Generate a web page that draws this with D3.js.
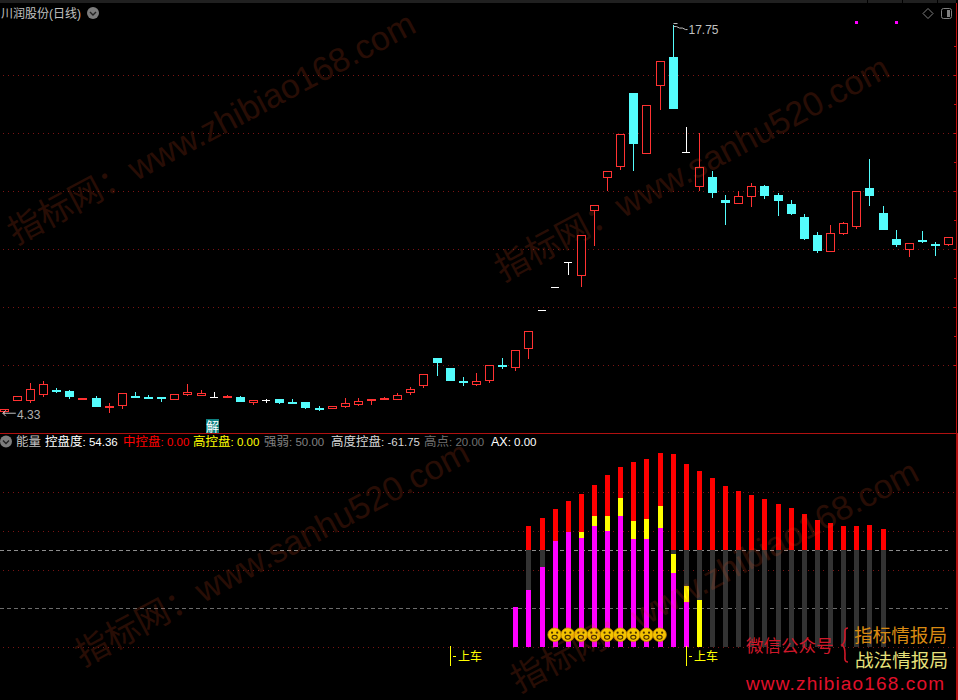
<!DOCTYPE html>
<html><head><meta charset="utf-8">
<script src="https://cdnjs.cloudflare.com/ajax/libs/d3/7.8.5/d3.min.js"></script>
<style>
html,body{margin:0;padding:0;background:#000;overflow:hidden}
svg{display:block}
text{font-family:"Liberation Sans","Noto Sans CJK SC",sans-serif}
</style></head><body><svg id="c" width="958" height="700"></svg>
<script>
const opens =[4.39,4.78,4.78,4.99,5.15,5.11,4.80,4.87,4.54,4.61,4.94,4.92,4.91,4.81,4.99,4.95,4.92,4.92,4.91,4.71,4.79,4.84,4.73,4.73,4.53,4.50,4.57,4.64,4.78,4.81,4.81,5.06,5.30,6.25,5.91,5.46,5.33,5.47,6.01,5.92,6.57,7.90,8.69,9.55,9.09,11.31,12.47,12.85,15.39,13.30,15.64,16.63,13.34,12.16,12.49,11.70,11.57,11.81,12.18,11.87,11.56,11.11,10.49,9.92,10.54,10.78,12.11,11.25,10.36,9.99,10.32,10.18,10.16];
const highs =[4.49,4.93,5.39,5.46,5.23,5.15,4.87,4.94,4.69,5.03,5.08,4.98,4.91,5.00,5.36,5.15,5.07,4.98,4.94,4.79,4.85,4.84,4.84,4.73,4.60,4.59,4.87,4.87,4.84,4.91,5.03,5.25,5.69,6.25,5.91,5.60,5.73,6.00,6.25,6.52,7.17,7.90,8.69,9.55,10.48,11.54,12.69,13.97,15.39,14.97,16.48,17.75,14.22,14.00,12.69,11.86,12.01,12.28,12.22,11.94,11.70,11.22,10.60,10.84,10.94,12.00,13.11,11.49,10.67,10.21,10.63,10.25,10.41];
const lows  =[4.33,4.78,4.70,4.92,5.06,4.84,4.80,4.56,4.37,4.49,4.92,4.84,4.73,4.81,4.95,4.95,4.87,4.92,4.73,4.64,4.70,4.67,4.71,4.49,4.43,4.50,4.54,4.61,4.63,4.81,4.81,4.98,5.23,5.63,5.46,5.29,5.29,5.39,5.87,5.81,6.22,7.90,8.69,9.11,8.71,10.12,12.01,12.74,12.71,13.30,14.81,14.84,13.34,12.01,11.77,10.84,11.57,11.46,11.73,11.15,11.18,10.32,9.87,9.92,10.49,10.70,11.49,10.67,10.08,9.73,10.22,9.77,10.12];
const closes=[4.49,4.93,5.19,5.34,5.12,4.91,4.87,4.56,4.60,5.03,4.92,4.90,4.89,5.00,5.07,5.03,4.92,4.94,4.73,4.79,4.79,4.70,4.71,4.53,4.50,4.59,4.69,4.76,4.84,4.87,4.97,5.17,5.69,6.08,5.46,5.39,5.45,6.00,5.94,6.52,7.17,7.90,8.69,9.55,10.48,11.54,12.69,13.97,13.63,14.97,16.48,14.84,13.34,12.83,11.94,11.60,11.83,12.17,11.84,11.67,11.22,10.36,9.94,10.55,10.90,12.00,11.84,10.67,10.15,10.21,10.25,10.11,10.41];
const priceGrid=[6,8,10,12,14,16];
const priceMinorTicks=[6,7,8,9,10,11,12,13,14,15,16,17];
const priceMarkers=[65,68];

const energyStart=39;
const energyMagenta=[20.69,29.48,41.38,54.83,59.48,56.38,62.59,60,67.76,55.86,55.86,61.55,38.28,23.28,0,0,0,0,0,0,0,0,0,0,0,0,0,0,0];
const energyYellow=[0,0,0,0,0,59.48,67.76,67.76,77.07,65.17,66.21,72.93,48.1,31.55,24.31,0,0,0,0,0,0,0,0,0,0,0,0,0,0];
const energyRed=[0,62.59,66.72,71.38,75.52,79.14,83.79,88.97,93.1,95.69,97.24,100.34,99.83,94.66,91.03,87.41,83.28,80.69,78.62,76.55,73.97,71.9,68.79,65.69,64.14,62.59,62.59,63.1,61.03];
const energyBase=50;
const energyGrid=[0,40,60,80];
const energyDashed=[50,20];
const smileyIdx=[42,43,44,45,46,47,48,49,50];
const signalIdx=[34,52];
const signalLabel="上车";
const stockTitle="川润股份(日线)";
const maxLabel="17.75", minLabel="4.33", maxIdx=51, minIdx=0;
const legendNames=["控盘度","中控盘","高控盘","强弱","高度控盘","高点","AX"];
const legendValues=["54.36","0.00","0.00","50.00","-61.75","20.00","0.00"];
const legendColors=["#ffffff","#ff0000","#ffff00","#808080","#d8d8d8","#707070","#ffffff"];
const legendX=[45,123,193,264,331,424,491];
const watermarks=[["指标网：www.zhibiao168.com",16,245],["指标网：www.sanhu520.com",503,282],["指标网：www.sanhu520.com",83,667],["指标网：www.zhibiao168.com",519,693]];

const svg=d3.select("#c");
svg.append("rect").attr("width",958).attr("height",700).attr("fill","#000");

const idx=d3.range(opens.length);
const x=d3.scalePoint().domain(idx).range([3.8,948.08]);
const px=i=>Math.round(x(i));
const y=d3.scaleLinear().domain([6,16]).range([365.3,75.3]);
const yE=d3.scaleLinear().domain([0,100]).range([647,453.67]);

// chrome
svg.append("rect").attr("width",956).attr("height",3).attr("fill","#202020");
svg.append("g").selectAll("rect").data([867,902,937]).join("rect")
  .attr("x",d=>d).attr("y",0).attr("width",1).attr("height",3).attr("fill","#000");
svg.append("rect").attr("x",0).attr("y",433).attr("width",957).attr("height",1).attr("fill","#b01010");
svg.append("rect").attr("x",956).attr("y",3).attr("width",1).attr("height",430).attr("fill","#c01010");
svg.append("rect").attr("x",956).attr("y",433).attr("width",2).attr("height",267).attr("fill","#b01010");

// grids built from axes
const gridG=svg.append("g").attr("shape-rendering","crispEdges");
function grid(scale,ticks,color,dash,x0,len){
  const g=gridG.append("g").attr("transform",`translate(${x0},0)`)
    .call(d3.axisRight(scale).tickValues(ticks).tickSize(len).tickFormat(""));
  g.select(".domain").remove();
  g.selectAll("line").attr("stroke",color).attr("stroke-dasharray",dash);
}
grid(y,priceGrid,"#7a1414","1 4",3,953);
grid(yE,energyGrid,"#7a1414","1 4",3,953);
const da=gridG.append("g").call(d3.axisRight(yE).tickValues([energyDashed[0]]).tickSize(948).tickFormat(""));
da.select(".domain").remove(); da.selectAll("line").attr("stroke","#8e8e8e").attr("stroke-dasharray","4 3");
const db=gridG.append("g").call(d3.axisRight(yE).tickValues([energyDashed[1]]).tickSize(948).tickFormat(""));
db.select(".domain").remove(); db.selectAll("line").attr("stroke","#6c6c6c").attr("stroke-dasharray","4 3");
const tk=gridG.append("g").attr("transform","translate(956,0)")
  .call(d3.axisLeft(y).tickValues(priceMinorTicks).tickSize(2).tickFormat(""));
tk.select(".domain").remove(); tk.selectAll("line").attr("stroke","#c01010");

// candles
const CY="#54fcfc",RD="#ff3232",WH="#ffffff";
const col=i=>closes[i]>opens[i]?RD:closes[i]<opens[i]?CY:WH;
const cg=svg.append("g").attr("shape-rendering","crispEdges");
const cs=cg.selectAll("g").data(idx).join("g");
cs.append("line").attr("x1",i=>px(i)+.5).attr("x2",i=>px(i)+.5)
  .attr("y1",i=>y(highs[i])).attr("y2",i=>y(lows[i])).attr("stroke",col);
cs.each(function(i){
  const s=d3.select(this),c=col(i),
    t=Math.round(y(Math.max(opens[i],closes[i]))),b=Math.round(y(Math.min(opens[i],closes[i]))),X=px(i)-4;
  if(c===RD){
    s.append("rect").attr("x",X+.5).attr("y",t+.5).attr("width",8).attr("height",Math.max(b-t-1,1))
      .attr("fill","#000").attr("stroke",RD);
  }else if(c===CY){
    s.append("rect").attr("x",X).attr("y",t).attr("width",9).attr("height",Math.max(b-t,2)).attr("fill",CY);
  }else{
    s.append("rect").attr("x",X).attr("y",t).attr("width",8).attr("height",1).attr("fill",WH);
  }
});

// high/low flags
const hx=px(maxIdx)+.5,hy=y(highs[maxIdx])-1;
svg.append("path").attr("fill","none").attr("stroke","#c0c0c0")
  .attr("d",`M${hx},${hy}h4M${hx},${hy+3}h3l3,1.5h3l3,1.5h2`);
svg.append("text").attr("x",hx+15).attr("y",hy+10).attr("font-size",12).attr("fill","#c0c0c0").text(maxLabel);
const ly=y(lows[minIdx])-.5;
svg.append("path").attr("fill","none").attr("stroke","#c0c0c0")
  .attr("d",`M${x(minIdx)-1},${ly}h13M${x(minIdx)-1},${ly}l3,-3M${x(minIdx)-1},${ly}l3,3`);
svg.append("text").attr("x",17).attr("y",ly+5.5).attr("font-size",12).attr("fill","#b0b0b0").text(minLabel);

// markers
svg.append("g").attr("shape-rendering","crispEdges").selectAll("rect").data(priceMarkers).join("rect")
  .attr("x",i=>px(i)-1).attr("y",21).attr("width",3).attr("height",3).attr("fill","#ff00ff");

// badge
svg.append("rect").attr("x",206).attr("y",419).attr("width",13).attr("height",14).attr("fill","#0e8080");
svg.append("text").attr("x",212.5).attr("y",430.5).attr("text-anchor","middle").attr("font-size",13).attr("fill","#fff").text("解");

// energy bars
const eIdx=d3.range(energyRed.length);
const ex=k=>px(energyStart+k)-2;
const bars=svg.append("g").attr("shape-rendering","crispEdges");
function layer(keys,from,to,color){
  bars.append("g").selectAll("rect").data(keys).join("rect")
    .attr("x",ex).attr("width",5).attr("y",k=>yE(to(k))).attr("height",k=>yE(from(k))-yE(to(k))).attr("fill",color);
}
layer(eIdx.filter(k=>energyRed[k]>0),()=>0,()=>energyBase,"#333333");
layer(eIdx.filter(k=>energyRed[k]>0),()=>energyBase,k=>energyRed[k],"#ff0000");
layer(eIdx.filter(k=>energyYellow[k]>0),()=>0,k=>energyYellow[k],"#ffff00");
layer(eIdx.filter(k=>energyMagenta[k]>0),()=>0,k=>energyMagenta[k],"#ff00ff");

// smileys
const sm=svg.append("g").selectAll("g").data(smileyIdx).join("g").attr("transform",i=>`translate(${x(i)},634.7)`);
sm.append("circle").attr("r",6.8).attr("fill","#f4c400").attr("stroke","#c88a00").attr("stroke-width",.8);
sm.append("circle").attr("cx",-2.6).attr("cy",-2).attr("r",1.1).attr("fill","#4a3000");
sm.append("circle").attr("cx",2.6).attr("cy",-2).attr("r",1.1).attr("fill","#4a3000");
sm.append("ellipse").attr("cy",2.6).attr("rx",2.6).attr("ry",1.9).attr("fill","#f4c400").attr("stroke","#4a3000").attr("stroke-width",1.1);

// signals
const sg=svg.append("g").selectAll("g").data(signalIdx).join("g").attr("transform",i=>`translate(${px(i)},0)`);
sg.append("rect").attr("x",0).attr("y",646).attr("width",1).attr("height",20).attr("fill","#ffff00");
sg.append("rect").attr("x",3).attr("y",656).attr("width",3).attr("height",1).attr("fill","#ffff00");
sg.append("text").attr("x",8).attr("y",661).attr("font-size",12).attr("fill","#ffff00").text(signalLabel);

// titles
function chev(cx,cy){
  svg.append("circle").attr("cx",cx).attr("cy",cy).attr("r",6).attr("fill","#7c7c7c");
  svg.append("path").attr("d",`M${cx-3},${cy-1}l3,3l3,-3`).attr("fill","none").attr("stroke","#222").attr("stroke-width",1.4);
}
svg.append("text").attr("x",1).attr("y",18).attr("font-size",12).attr("fill","#c0c0c0").text(stockTitle);
chev(93,13); chev(6,441.5);
svg.append("text").attr("x",16).attr("y",446).attr("font-size",12.5).attr("fill","#c0c0c0").text("能量");
const lg=svg.append("g").selectAll("text").data(legendNames).join("text")
  .attr("x",(d,i)=>legendX[i]).attr("y",446).attr("fill",(d,i)=>legendColors[i]);
lg.append("tspan").attr("font-size",12.5).text(d=>d);
lg.append("tspan").attr("font-size",11.5).text((d,i)=>": "+legendValues[i]);

// top right icons
svg.append("path").attr("d","M928,8.5l5,5l-5,5l-5,-5z").attr("fill","none").attr("stroke","#808080");
svg.append("rect").attr("x",941.5).attr("y",8.5).attr("width",10).attr("height",10).attr("rx",2).attr("fill","none").attr("stroke","#808080");
svg.append("rect").attr("x",947).attr("y",10).attr("width",3).attr("height",7).attr("fill","#808080");

// promo texts
svg.append("text").attr("x",746).attr("y",652).attr("font-size",17.5).attr("fill","#d0182a").text("微信公众号");
svg.append("path").attr("d","M848,628c-4,0,-3,4,-3,8c0,5,-1,8,-3,9c2,1,3,4,3,9c0,4,-1,8,3,8").attr("fill","none").attr("stroke","#d01828").attr("stroke-width",1.6);
svg.append("text").attr("x",854).attr("y",642).attr("font-size",18.6).attr("fill","#d98a12").text("指标情报局");
svg.append("text").attr("x",855).attr("y",667).attr("font-size",18.6).attr("fill","#e6e07a").text("战法情报局");
svg.append("text").attr("x",746).attr("y",690).attr("font-size",19).attr("textLength",198).attr("fill","#e0102a").attr("font-family","DejaVu Sans").text("www.zhibiao168.com");

// watermarks
svg.append("g").selectAll("text").data(watermarks).join("text")
  .attr("transform",d=>`translate(${d[1]},${d[2]}) rotate(-28)`)
  .attr("font-size",34).attr("font-family","DejaVu Sans,Noto Sans CJK SC").attr("fill","#d2481e").attr("opacity",.19)
  .text(d=>d[0]);
</script></body></html>
